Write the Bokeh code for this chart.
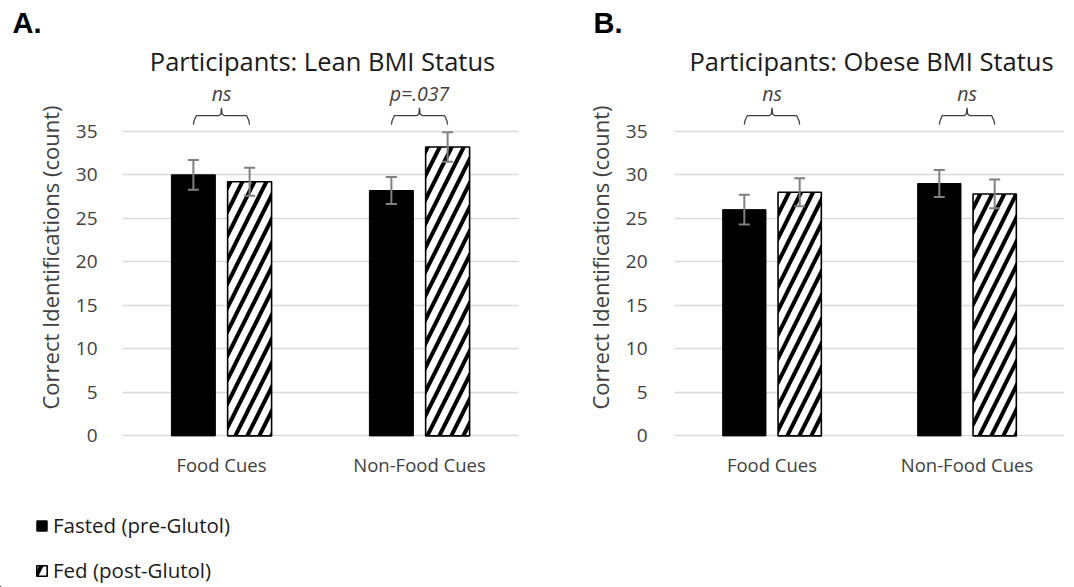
import numpy as np
from bokeh.plotting import figure
from bokeh.models import (ColumnDataSource, FactorRange, Range1d, FixedTicker,
                          Whisker, TeeHead, Legend, LegendItem)
from bokeh.layouts import row, column
from bokeh.core.properties import value
from bokeh.embed import file_html
from bokeh.resources import INLINE

# ---------------- data ----------------
categories = ["Food Cues", "Non-Food Cues"]
series_names = ["Fasted (pre-Glutol)", "Fed (post-Glutol)"]

lean_fasted = [30.0, 28.2]
lean_fasted_err = [1.7, 1.55]
lean_fed = [29.2, 33.2]
lean_fed_err = [1.6, 1.7]
lean_sig = ["ns", "p=.037"]

obese_fasted = [26.0, 29.0]
obese_fasted_err = [1.7, 1.55]
obese_fed = [28.0, 27.8]
obese_fed_err = [1.6, 1.65]
obese_sig = ["ns", "ns"]

y_ticks = [0, 5, 10, 15, 20, 25, 30, 35]
titles = ["Participants: Lean BMI Status", "Participants: Obese BMI Status"]
letters = ["A.", "B."]
y_label = "Correct Identifications (count)"

# ---------------- style ----------------
FONT = "Open Sans"
TXT = "#404040"
OFF = 0.142
BW = 0.222
Y0, Y1 = -0.3, 41.3
TOP_H = 76

FASTED_STYLE = dict(fill_color="black", line_color="black", line_width=1)
FED_STYLE = dict(fill_color="white", line_color="black", line_width=1.6,
                 hatch_pattern="/", hatch_color="black", hatch_weight=4,
                 hatch_scale=24)


def make_panel(fasted, fasted_err, fed, fed_err, sig,
               width, b_left, b_right, tick_standoff):
    p = figure(width=width, height=490 - TOP_H, x_range=FactorRange(factors=categories),
               y_range=Range1d(Y0, Y1), output_backend="svg", toolbar_location=None,
               title=None, min_border_left=b_left, min_border_right=b_right,
               min_border_top=0, min_border_bottom=52)
    p.outline_line_color = None
    p.background_fill_color = "white"
    p.border_fill_color = "white"

    centers = np.arange(len(categories)) + 0.5
    fasted = np.array(fasted, dtype=float)
    fed = np.array(fed, dtype=float)
    fe = np.array(fasted_err, dtype=float)
    de = np.array(fed_err, dtype=float)

    src_fasted = ColumnDataSource(dict(x=centers - OFF, top=fasted,
                                       upper=fasted + fe, lower=fasted - fe))
    src_fed = ColumnDataSource(dict(x=centers + OFF, top=fed,
                                    upper=fed + de, lower=fed - de))

    p.vbar(x="x", top="top", bottom=0, width=BW, source=src_fasted, **FASTED_STYLE)
    p.vbar(x="x", top="top", bottom=0, width=BW, source=src_fed, **FED_STYLE)

    for src in (src_fasted, src_fed):
        w = Whisker(source=src, base="x", upper="upper", lower="lower",
                    line_color="#808080", line_width=2,
                    upper_head=TeeHead(size=11, line_color="#808080", line_width=2),
                    lower_head=TeeHead(size=11, line_color="#808080", line_width=2))
        w.level = "annotation"
        p.add_layout(w)

    # significance braces
    y_end, y_h, y_top = 35.76, 36.8, 37.7
    xs, ys = [], []
    for c in centers:
        x0, x1 = c - OFF, c + OFF
        xs.append([x0, x0 + 0.004, x0 + 0.015, c - 0.015, c - 0.003, c,
                   c + 0.003, c + 0.015, x1 - 0.015, x1 - 0.004, x1])
        ys.append([y_end, y_h - 0.55, y_h, y_h, y_h + 0.2, y_top,
                   y_h + 0.2, y_h, y_h, y_h - 0.55, y_end])
    p.multi_line(xs=xs, ys=ys, line_color="#404040", line_width=1.3)
    p.text(x=centers, y=[39.3] * len(centers), text=sig,
           text_font=value(FONT), text_font_style="italic", text_font_size="19.5px",
           text_align="center", text_baseline="alphabetic", text_color=TXT)

    # axes
    p.yaxis.ticker = FixedTicker(ticks=y_ticks)
    p.ygrid.grid_line_color = "#d9d9d9"
    p.ygrid.grid_line_width = 1.5
    p.xgrid.visible = False
    for ax in (p.xaxis[0], p.yaxis[0]):
        ax.axis_line_color = None
        ax.major_tick_line_color = None
        ax.minor_tick_line_color = None
        ax.major_label_text_font = FONT
        ax.major_label_text_color = TXT
    p.yaxis.major_label_text_font_size = "19px"
    p.xaxis.major_label_text_font_size = "18.5px"
    p.yaxis.major_label_standoff = tick_standoff
    p.xaxis.major_label_standoff = 7
    p.yaxis.axis_label = y_label
    p.yaxis.axis_label_text_font = FONT
    p.yaxis.axis_label_text_font_size = "22px"
    p.yaxis.axis_label_text_font_style = "normal"
    p.yaxis.axis_label_text_color = TXT
    p.yaxis.axis_label_standoff = 8
    return p


def blank(width, height):
    f = figure(width=width, height=height, x_range=Range1d(0, width),
               y_range=Range1d(0, height), output_backend="svg", title=None,
               toolbar_location=None, x_axis_type=None, y_axis_type=None,
               min_border=0)
    f.outline_line_color = None
    f.grid.visible = False
    return f


# top strip: panel letters and panel titles
pTop = blank(1066, TOP_H)
pTop.text(x=[12, 593], y=[54, 54], text=letters, text_font=value("Liberation Sans"),
          text_font_style="bold", text_font_size="29px", text_color="black",
          text_baseline="alphabetic", text_align="left")
pTop.text(x=[322, 871], y=[16, 16], text=titles, text_font=value(FONT),
          text_font_size="25.5px", text_color="#1a1a1a",
          text_baseline="alphabetic", text_align="center")

pA = make_panel(lean_fasted, lean_fasted_err, lean_fed, lean_fed_err,
                lean_sig, 540, 122, 22, 19)
pB = make_panel(obese_fasted, obese_fasted_err, obese_fed, obese_fed_err,
                obese_sig, 526, 134, 2, 21)

# legend strip
pLeg = blank(540, 97)
hidden = dict(x=[-50], top=[1])
r1 = pLeg.vbar(x="x", top="top", width=1, source=ColumnDataSource(hidden), **FASTED_STYLE)
r2 = pLeg.vbar(x="x", top="top", width=1, source=ColumnDataSource(dict(hidden)), **FED_STYLE)
for name, rend, loc in ((series_names[0], r1, (35, 48)), (series_names[1], r2, (35, 3))):
    lg = Legend(items=[LegendItem(label=name, renderers=[rend])],
                location=loc, glyph_width=13, glyph_height=13,
                label_standoff=5, label_text_font=FONT,
                label_text_font_size="20.5px", label_text_color="#1a1a1a",
                padding=0, margin=0, border_line_color=None,
                background_fill_alpha=0)
    pLeg.add_layout(lg)

layout = column(pTop, row(pA, pB), pLeg, spacing=0)
open("out.html", "w").write(file_html(layout, INLINE))
